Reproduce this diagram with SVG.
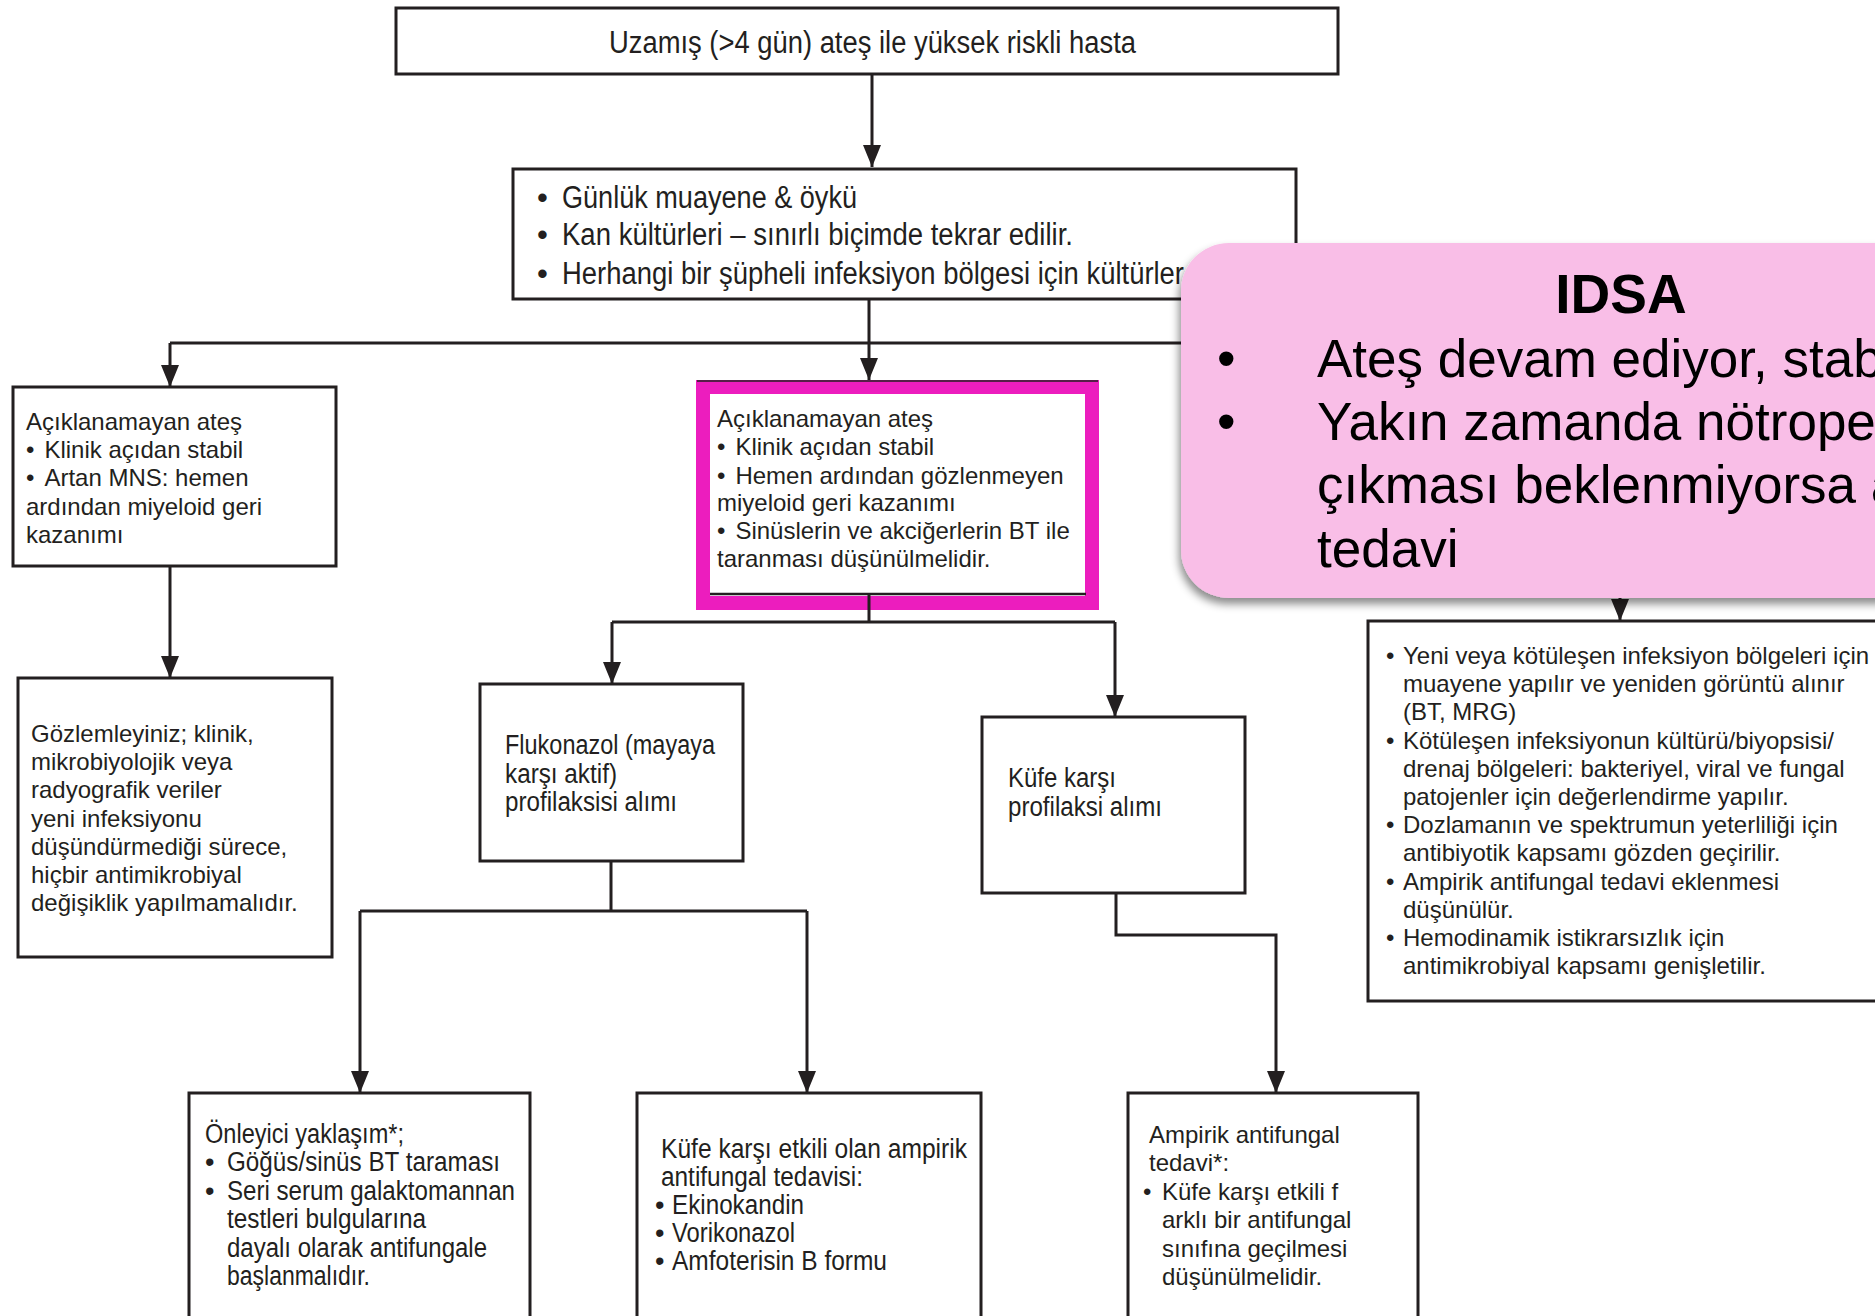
<svg xmlns="http://www.w3.org/2000/svg" width="1875" height="1316" viewBox="0 0 1875 1316">
<defs>
<style>
.box{fill:#fff;stroke:#231f20;stroke-width:3}
.t{font-family:"Liberation Sans",Arial,sans-serif;font-size:24px;fill:#231f20}
.c{font-family:"Liberation Sans",Arial,sans-serif;font-size:27px;fill:#231f20}
.cl{font-family:"Liberation Sans",Arial,sans-serif;font-size:31px;fill:#231f20}
.ln{fill:none;stroke:#231f20;stroke-width:3}
.p{font-family:"Liberation Sans",Arial,sans-serif;font-size:53px;fill:#000}
</style>
<marker id="ah" markerUnits="userSpaceOnUse" markerWidth="22" markerHeight="18" viewBox="0 0 22 18" refX="22" refY="9" orient="auto">
<path d="M0,0 L22,9 L0,18 z" fill="#231f20"/>
</marker>
<filter id="sh" x="-10%" y="-10%" width="130%" height="130%">
<feDropShadow dx="-2" dy="6" stdDeviation="4" flood-color="#000" flood-opacity="0.45"/>
</filter>
</defs>
<rect width="1875" height="1316" fill="#fff"/>

<g id="connectors">
<path class="ln" d="M872,74 V167" marker-end="url(#ah)"/>
<path class="ln" d="M869,299 V343 M170,343 H1620"/>
<path class="ln" d="M170,343 V387" marker-end="url(#ah)"/>
<path class="ln" d="M869,343 V380" marker-end="url(#ah)"/>
<path class="ln" d="M1620,343 V621" marker-end="url(#ah)"/>
<path class="ln" d="M170,566 V678" marker-end="url(#ah)"/>
<path class="ln" d="M612,622 H1115"/>
<path class="ln" d="M612,622 V684" marker-end="url(#ah)"/>
<path class="ln" d="M1115,622 V717" marker-end="url(#ah)"/>
<path class="ln" d="M611,861 V911 M360,911 H807"/>
<path class="ln" d="M360,911 V1093" marker-end="url(#ah)"/>
<path class="ln" d="M807,911 V1093" marker-end="url(#ah)"/>
<path class="ln" d="M1116,893 V935 H1276 V1093" marker-end="url(#ah)"/>
</g>

<g id="n-top">
<rect class="box" x="396" y="8" width="942" height="66"/>
<text class="cl" x="609" y="53" textLength="527" lengthAdjust="spacingAndGlyphs">Uzamış (&gt;4 gün) ateş ile yüksek riskli hasta</text>
</g>

<g id="n-daily">
<rect class="box" x="513" y="169" width="783" height="130"/>
<text class="cl" x="537" y="208">•</text>
<text class="cl" x="562" y="208" textLength="295" lengthAdjust="spacingAndGlyphs">Günlük muayene &amp; öykü</text>
<text class="cl" x="537" y="245">•</text>
<text class="cl" x="562" y="245" textLength="511" lengthAdjust="spacingAndGlyphs">Kan kültürleri – sınırlı biçimde tekrar edilir.</text>
<text class="cl" x="537" y="284">•</text>
<text class="cl" x="562" y="284" textLength="622" lengthAdjust="spacingAndGlyphs">Herhangi bir şüpheli infeksiyon bölgesi için kültürler</text>
</g>

<g id="n-left1">
<rect class="box" x="13" y="387" width="323" height="179"/>
<text class="t" x="26" y="430">Açıklanamayan ateş</text>
<text class="t" x="26" y="458">•<tspan dx="10">Klinik açıdan stabil</tspan></text>
<text class="t" x="26" y="486">•<tspan dx="10">Artan MNS: hemen</tspan></text>
<text class="t" x="26" y="515">ardından miyeloid geri</text>
<text class="t" x="26" y="543">kazanımı</text>
</g>

<g id="n-left2">
<rect class="box" x="18" y="678" width="314" height="279"/>
<text class="t" x="31" y="742">Gözlemleyiniz; klinik,</text>
<text class="t" x="31" y="770">mikrobiyolojik veya</text>
<text class="t" x="31" y="798">radyografik veriler</text>
<text class="t" x="31" y="827">yeni infeksiyonu</text>
<text class="t" x="31" y="855">düşündürmediği sürece,</text>
<text class="t" x="31" y="883">hiçbir antimikrobiyal</text>
<text class="t" x="31" y="911">değişiklik yapılmamalıdır.</text>
</g>

<g id="n-mid">
<rect x="703" y="387" width="389" height="216" fill="#fff" stroke="#ec1dbe" stroke-width="14"/>
<line x1="697" y1="381" x2="1098" y2="381" stroke="#231f20" stroke-width="1.5"/>
<line x1="710" y1="594" x2="1086" y2="594" stroke="#231f20" stroke-width="2.5"/>
<text class="t" x="717" y="427">Açıklanamayan ateş</text>
<text class="t" x="717" y="455">•<tspan dx="10">Klinik açıdan stabil</tspan></text>
<text class="t" x="717" y="484">•<tspan dx="10">Hemen ardından gözlenmeyen</tspan></text>
<text class="t" x="717" y="511">miyeloid geri kazanımı</text>
<text class="t" x="717" y="539">•<tspan dx="10">Sinüslerin ve akciğerlerin BT ile</tspan></text>
<text class="t" x="717" y="567">taranması düşünülmelidir.</text>
<path class="ln" d="M869,594 V622"/>
</g>

<g id="n-fluko">
<rect class="box" x="480" y="684" width="263" height="177"/>
<text class="c" x="505" y="754" textLength="210" lengthAdjust="spacingAndGlyphs">Flukonazol (mayaya</text>
<text class="c" x="505" y="783" textLength="112" lengthAdjust="spacingAndGlyphs">karşı aktif)</text>
<text class="c" x="505" y="811" textLength="172" lengthAdjust="spacingAndGlyphs">profilaksisi alımı</text>
</g>

<g id="n-kufe">
<rect class="box" x="982" y="717" width="263" height="176"/>
<text class="c" x="1008" y="787" textLength="108" lengthAdjust="spacingAndGlyphs">Küfe karşı</text>
<text class="c" x="1008" y="816" textLength="154" lengthAdjust="spacingAndGlyphs">profilaksi alımı</text>
</g>

<g id="n-onleyici">
<rect class="box" x="189" y="1093" width="341" height="240"/>
<text class="c" x="205" y="1143" textLength="199" lengthAdjust="spacingAndGlyphs">Önleyici yaklaşım*;</text>
<text class="c" x="205" y="1171">•</text>
<text class="c" x="227" y="1171" textLength="273" lengthAdjust="spacingAndGlyphs">Göğüs/sinüs BT taraması</text>
<text class="c" x="205" y="1200">•</text>
<text class="c" x="227" y="1200" textLength="288" lengthAdjust="spacingAndGlyphs">Seri serum galaktomannan</text>
<text class="c" x="227" y="1228" textLength="199" lengthAdjust="spacingAndGlyphs">testleri bulgularına</text>
<text class="c" x="227" y="1257" textLength="260" lengthAdjust="spacingAndGlyphs">dayalı olarak antifungale</text>
<text class="c" x="227" y="1285" textLength="143" lengthAdjust="spacingAndGlyphs">başlanmalıdır.</text>
</g>

<g id="n-ampirik-kufe">
<rect class="box" x="637" y="1093" width="344" height="240"/>
<text class="c" x="661" y="1158" textLength="306" lengthAdjust="spacingAndGlyphs">Küfe karşı etkili olan ampirik</text>
<text class="c" x="661" y="1186" textLength="202" lengthAdjust="spacingAndGlyphs">antifungal tedavisi:</text>
<text class="c" x="655" y="1214">•</text>
<text class="c" x="672" y="1214" textLength="132" lengthAdjust="spacingAndGlyphs">Ekinokandin</text>
<text class="c" x="655" y="1242">•</text>
<text class="c" x="672" y="1242" textLength="123" lengthAdjust="spacingAndGlyphs">Vorikonazol</text>
<text class="c" x="655" y="1270">•</text>
<text class="c" x="672" y="1270" textLength="215" lengthAdjust="spacingAndGlyphs">Amfoterisin B formu</text>
</g>

<g id="n-ampirik">
<rect class="box" x="1128" y="1093" width="290" height="240"/>
<text class="t" x="1149" y="1143">Ampirik antifungal</text>
<text class="t" x="1149" y="1171">tedavi*:</text>
<text class="t" x="1143" y="1200">•</text>
<text class="t" x="1162" y="1200">Küfe karşı etkili f</text>
<text class="t" x="1162" y="1228">arklı bir antifungal</text>
<text class="t" x="1162" y="1257">sınıfına geçilmesi</text>
<text class="t" x="1162" y="1285">düşünülmelidir.</text>
</g>

<g id="n-right">
<rect class="box" x="1368" y="621" width="530" height="380"/>
<text class="t" x="1386" y="664">•</text>
<text class="t" x="1403" y="664">Yeni veya kötüleşen infeksiyon bölgeleri için</text>
<text class="t" x="1403" y="692">muayene yapılır ve yeniden görüntü alınır</text>
<text class="t" x="1403" y="720">(BT, MRG)</text>
<text class="t" x="1386" y="749">•</text>
<text class="t" x="1403" y="749">Kötüleşen infeksiyonun kültürü/biyopsisi/</text>
<text class="t" x="1403" y="777">drenaj bölgeleri: bakteriyel, viral ve fungal</text>
<text class="t" x="1403" y="805">patojenler için değerlendirme yapılır.</text>
<text class="t" x="1386" y="833">•</text>
<text class="t" x="1403" y="833">Dozlamanın ve spektrumun yeterliliği için</text>
<text class="t" x="1403" y="861">antibiyotik kapsamı gözden geçirilir.</text>
<text class="t" x="1386" y="890">•</text>
<text class="t" x="1403" y="890">Ampirik antifungal tedavi eklenmesi</text>
<text class="t" x="1403" y="918">düşünülür.</text>
<text class="t" x="1386" y="946">•</text>
<text class="t" x="1403" y="946">Hemodinamik istikrarsızlık için</text>
<text class="t" x="1403" y="974">antimikrobiyal kapsamı genişletilir.</text>
</g>

<g id="n-idsa">
<rect x="1181" y="243" width="760" height="355" rx="48" ry="48" fill="#f9bee7" filter="url(#sh)"/>
<text x="1621" y="313" text-anchor="middle" font-family="Liberation Sans,Arial,sans-serif" font-size="55" font-weight="bold" fill="#000">IDSA</text>
<text class="p" x="1217" y="377">•</text>
<text class="p" x="1317" y="377">Ateş devam ediyor, stab</text>
<text class="p" x="1217" y="440">•</text>
<text class="p" x="1317" y="440">Yakın zamanda nötrope</text>
<text class="p" x="1317" y="503">çıkması beklenmiyorsa a</text>
<text class="p" x="1317" y="567">tedavi</text>
</g>
</svg>
